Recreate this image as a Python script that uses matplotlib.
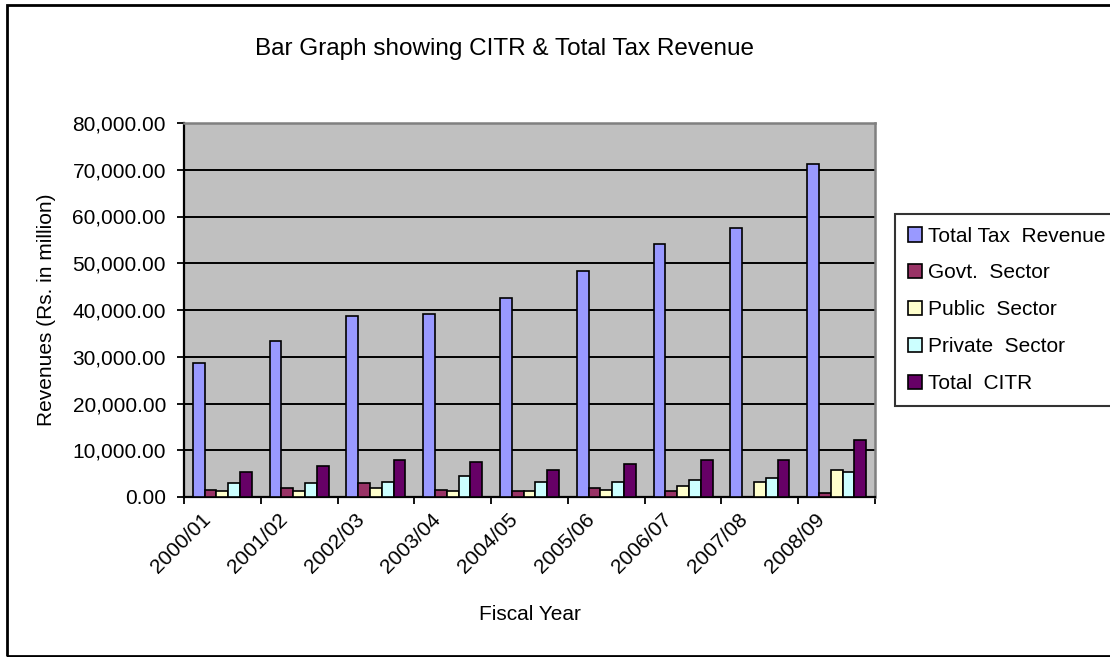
import numpy as np
import matplotlib.pyplot as plt
from matplotlib.patches import Rectangle
from matplotlib.transforms import ScaledTranslation

plt.rcParams['font.family'] = ['Liberation Sans', 'DejaVu Sans']

years = ['2000/01', '2001/02', '2002/03', '2003/04', '2004/05',
         '2005/06', '2006/07', '2007/08', '2008/09']
total_tax = [28700, 33400, 38700, 39100, 42500, 48300, 54200, 57500, 71300]
govt = [1600, 2000, 2900, 1600, 1200, 2000, 1200, 0, 850]
public = [1200, 1300, 2000, 1300, 1200, 1600, 2400, 3300, 5800]
private = [2900, 2900, 3300, 4500, 3300, 3300, 3700, 4100, 5400]
citr = [5400, 6700, 7900, 7500, 5800, 7100, 7900, 7900, 12100]

series = [total_tax, govt, public, private, citr]
names = ['Total Tax  Revenue', 'Govt.  Sector', 'Public  Sector',
         'Private  Sector', 'Total  CITR']
colors = ['#9999FF', '#993366', '#FFFFCC', '#CCFFFF', '#660066']

fig = plt.figure(figsize=(11.1, 6.57), dpi=100)
ax = fig.add_axes([184 / 1110, 160 / 657, 691 / 1110, 374 / 657])
ax.set_facecolor('#C0C0C0')

x = np.arange(len(years))
w = 1 / 6.5
for i, (vals, name, c) in enumerate(zip(series, names, colors)):
    ax.bar(x + (i - 2) * w, vals, w, color=c, edgecolor='black',
           linewidth=1.2, label=name, zorder=3)

ax.set_xlim(-0.5, len(years) - 0.5)
ax.set_ylim(0, 80000)
yt = np.arange(0, 80001, 10000)
ax.set_yticks(yt)
ax.set_yticklabels(['{:,.2f}'.format(v) for v in yt], fontsize=15)
ax.yaxis.grid(True, color='black', linewidth=1.4, zorder=1)
ax.set_axisbelow(True)

ax.set_xticks(np.arange(-0.5, len(years) - 0.4, 1))
ax.set_xticklabels([])
ax.set_xticks(x, minor=True)
ax.set_xticklabels(years, minor=True, rotation=45, ha='right', va='top',
                   fontsize=15)
ax.tick_params(axis='x', which='minor', length=0, pad=9)
ax.tick_params(axis='x', which='major', length=5, width=1.3, direction='out')
ax.tick_params(axis='y', length=5, width=1.3, direction='out', pad=8)
shift = ScaledTranslation(-8 / 100, 0, fig.dpi_scale_trans)
for lab in ax.get_xticklabels(minor=True):
    lab.set_transform(lab.get_transform() + shift)

for s in ['left', 'bottom']:
    ax.spines[s].set_linewidth(1.6)
    ax.spines[s].set_color('black')
for s in ['top', 'right']:
    ax.spines[s].set_linewidth(1.8)
    ax.spines[s].set_color('#808080')

ax.set_xlabel('Fiscal Year', fontsize=15)
ax.xaxis.set_label_coords(0.5, (497 - 615) / 374)
ax.xaxis.label.set_va('center')
ax.set_ylabel('Revenues (Rs. in million)', fontsize=15)
ax.yaxis.set_label_coords((46.5 - 184) / 691, 0.5)
ax.yaxis.label.set_va('center')

fig.text(255 / 1110, 1 - 55 / 657, 'Bar Graph showing CITR & Total Tax Revenue',
         fontsize=17.5, ha='left', va='baseline')

leg = fig.legend(loc='upper left', bbox_to_anchor=(895 / 1110, 1 - 214 / 657),
                 borderaxespad=0, fontsize=15, frameon=True, fancybox=False,
                 edgecolor='black', handlelength=0.7, handleheight=0.7,
                 handletextpad=0.3, labelspacing=0.86, borderpad=0.6)
leg.get_frame().set_linewidth(1.5)

fig.patches.append(Rectangle((7 / 1110, 1 / 657), 1.2, 651 / 657,
                             transform=fig.transFigure, fill=False,
                             edgecolor='black', linewidth=2))

fig.savefig('out.png', dpi=100)
